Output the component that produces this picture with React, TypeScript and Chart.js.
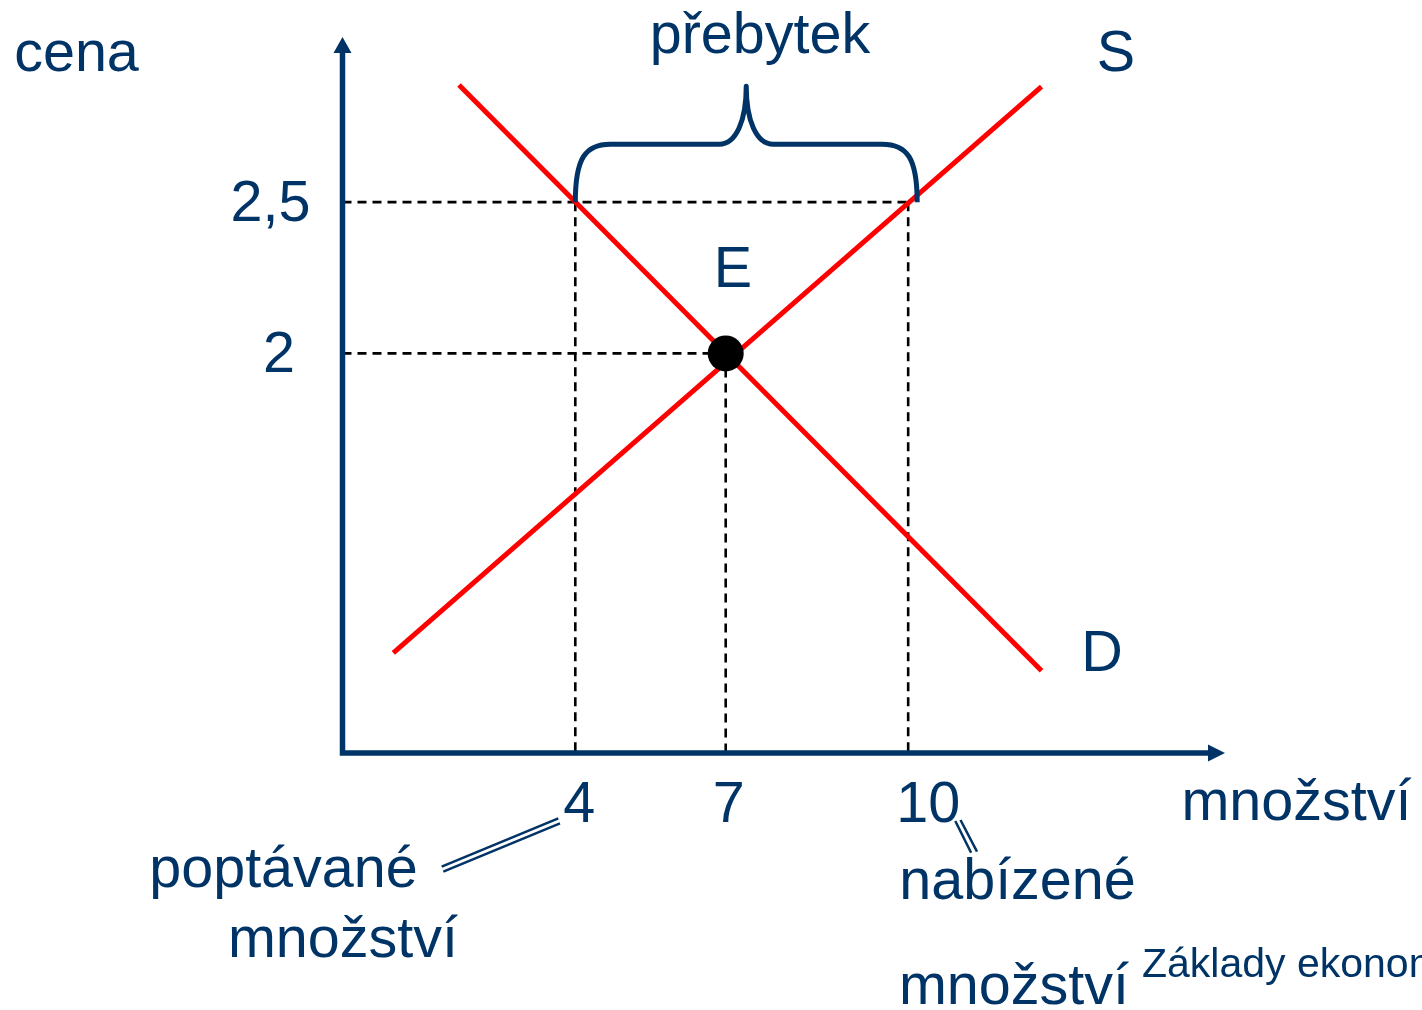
import React, { useEffect, useRef } from 'react';
import { Chart, registerables } from 'chart.js';

Chart.register(...registerables);

const NAVY = '#003366';
const RED = '#ff0000';
const FONT = '"Liberation Sans", Arial, sans-serif';

// axis ranges (schematic units)
const quantityRange = [-0.644, 16.96];
const priceRange = [0.679, 3.046];

// demand curve D
const demandQ = [1.68, 13.3];
const demandP = [2.887, 0.951];

// supply curve S
const supplyQ = [0.37, 13.3];
const supplyP = [1.01, 2.882];

// equilibrium E
const equilibriumQ = [7];
const equilibriumP = [2];

// price ticks
const priceTicks = [2.5, 2];
const priceTickLabels = ['2,5', '2'];

// quantity ticks and the price each guide line rises to
const quantityTicks = [4, 7, 10.64];
const quantityTickLabels = ['4', '7', '10'];
const guidePrices = [2.5, 2, 2.5];

// texts
const axisTitleY = 'cena';
const axisTitleX = 'množství';
const surplusLabel = 'přebytek';
const supplyLabel = 'S';
const demandLabel = 'D';
const equilibriumLabel = 'E';
const demandedLabel = ['poptávané', 'množství'];
const suppliedLabel = ['nabízené', 'množství'];
const footerLabel = 'Základy ekonomie';

const toPts = (qs: number[], ps: number[]) => qs.map((q, i) => ({ x: q, y: ps[i] }));

const overlayPlugin = {
  id: 'overlay',
  afterDatasetsDraw(chart: any) {
    const { ctx, chartArea, scales } = chart;
    const xs = scales.x;
    const ys = scales.y;
    const L = chartArea.left;
    const B = chartArea.bottom;
    const T = chartArea.top;
    const R = chartArea.right;
    ctx.save();

    // axes
    ctx.strokeStyle = NAVY;
    ctx.fillStyle = NAVY;
    ctx.lineWidth = 5.5;
    ctx.lineCap = 'butt';
    ctx.beginPath();
    ctx.moveTo(L, B + 2.75);
    ctx.lineTo(L, T + 12);
    ctx.moveTo(L - 2.75, B);
    ctx.lineTo(R - 12, B);
    ctx.stroke();
    ctx.beginPath();
    ctx.moveTo(L, T);
    ctx.lineTo(L - 9, T + 16);
    ctx.lineTo(L + 9, T + 16);
    ctx.closePath();
    ctx.fill();
    ctx.beginPath();
    ctx.moveTo(R, B);
    ctx.lineTo(R - 17, B - 8.5);
    ctx.lineTo(R - 17, B + 8.5);
    ctx.closePath();
    ctx.fill();

    // brace over the surplus
    const bl = xs.getPixelForValue(quantityTicks[0]);
    const br = xs.getPixelForValue(quantityTicks[2]) + 9;
    const bb = ys.getPixelForValue(guidePrices[0]);
    const bt = bb - 58;
    const bp = bb - 116;
    const bm = (bl + br) / 2;
    ctx.lineWidth = 5;
    ctx.lineJoin = 'round';
    ctx.beginPath();
    ctx.moveTo(bl, bb);
    ctx.bezierCurveTo(bl, bt + 14, bl + 10, bt, bl + 35, bt);
    ctx.lineTo(bm - 27, bt);
    ctx.bezierCurveTo(bm - 10, bt, bm, bt - 24, bm, bp);
    ctx.bezierCurveTo(bm, bt - 24, bm + 10, bt, bm + 27, bt);
    ctx.lineTo(br - 35, bt);
    ctx.bezierCurveTo(br - 10, bt, br, bt + 14, br, bb);
    ctx.stroke();

    // double connector lines
    ctx.lineWidth = 2.5;
    ctx.beginPath();
    ctx.moveTo(441.7, 866.7); ctx.lineTo(558.3, 818.3);
    ctx.moveTo(443.3, 871.7); ctx.lineTo(560, 823.3);
    ctx.moveTo(955.3, 821); ctx.lineTo(971.1, 852.7);
    ctx.moveTo(960.5, 820); ctx.lineTo(977, 851.7);
    ctx.stroke();

    // texts
    ctx.textBaseline = 'alphabetic';
    ctx.textAlign = 'center';
    ctx.font = `57.5px ${FONT}`;
    ctx.fillText(axisTitleY, 76.5, 71);
    ctx.fillText(surplusLabel, 760, 53);
    ctx.fillText(supplyLabel, 1116, 71);
    ctx.fillText(demandLabel, 1102, 671);
    ctx.fillText(equilibriumLabel, 733, 287);

    const yLabelX = [270.5, 279];
    priceTicks.forEach((p, i) => {
      ctx.fillText(priceTickLabels[i], yLabelX[i], ys.getPixelForValue(p) + 18.5);
    });
    const xLabelOff = [4, 3, 20];
    quantityTicks.forEach((q, i) => {
      ctx.fillText(quantityTickLabels[i], xs.getPixelForValue(q) + xLabelOff[i], B + 68.5);
    });

    ctx.fillText(axisTitleX, 1296.5, 820);
    ctx.fillText(demandedLabel[0], 283.5, 887);
    ctx.fillText(demandedLabel[1], 343, 957);
    ctx.fillText(suppliedLabel[0], 1017.5, 899);
    ctx.fillText(suppliedLabel[1], 1014, 1004);

    ctx.textAlign = 'left';
    ctx.font = `41px ${FONT}`;
    ctx.fillText(footerLabel, 1142, 977);

    ctx.restore();
  },
};

export default function App() {
  const ref = useRef<HTMLCanvasElement | null>(null);

  useEffect(() => {
    if (!ref.current) return;
    const xMin = quantityRange[0];
    const yMin = priceRange[0];

    const guides: any[] = [];
    priceTicks.forEach((p) => {
      const qRight = Math.max(...quantityTicks.filter((_, i) => guidePrices[i] === p));
      guides.push([{ x: xMin, y: p }, { x: qRight, y: p }]);
    });
    quantityTicks.forEach((q, i) => {
      guides.push([{ x: q, y: guidePrices[i] }, { x: q, y: yMin }]);
    });

    const guideSets = guides.map((data) => ({
      data,
      showLine: true,
      borderColor: '#000000',
      borderWidth: 2.6,
      borderDash: [9, 6],
      pointRadius: 0,
      fill: false,
    }));

    const chart = new Chart(ref.current, {
      type: 'scatter',
      data: {
        datasets: [
          {
            data: toPts(equilibriumQ, equilibriumP),
            pointRadius: 18,
            pointHoverRadius: 18,
            backgroundColor: '#000000',
            borderWidth: 0,
            showLine: false,
          },
          {
            data: toPts(demandQ, demandP),
            showLine: true,
            borderColor: RED,
            borderWidth: 5,
            pointRadius: 0,
            fill: false,
          },
          {
            data: toPts(supplyQ, supplyP),
            showLine: true,
            borderColor: RED,
            borderWidth: 5,
            pointRadius: 0,
            fill: false,
          },
          ...guideSets,
        ] as any,
      },
      options: {
        animation: false,
        responsive: false,
        devicePixelRatio: 1,
        layout: { padding: { left: 342.5, top: 37, right: 197, bottom: 257 } },
        plugins: { legend: { display: false }, tooltip: { enabled: false }, title: { display: false } },
        events: [],
        scales: {
          x: { type: 'linear', min: quantityRange[0], max: quantityRange[1], display: false },
          y: { type: 'linear', min: priceRange[0], max: priceRange[1], display: false },
        },
      } as any,
      plugins: [overlayPlugin],
    });
    return () => chart.destroy();
  }, []);

  return (
    <div style={{ position: 'fixed', left: 0, top: 0, width: 1422, height: 1010, background: '#ffffff', overflow: 'hidden' }}>
      <canvas ref={ref} width={1422} height={1010} style={{ display: 'block', width: 1422, height: 1010 }} />
    </div>
  );
}
